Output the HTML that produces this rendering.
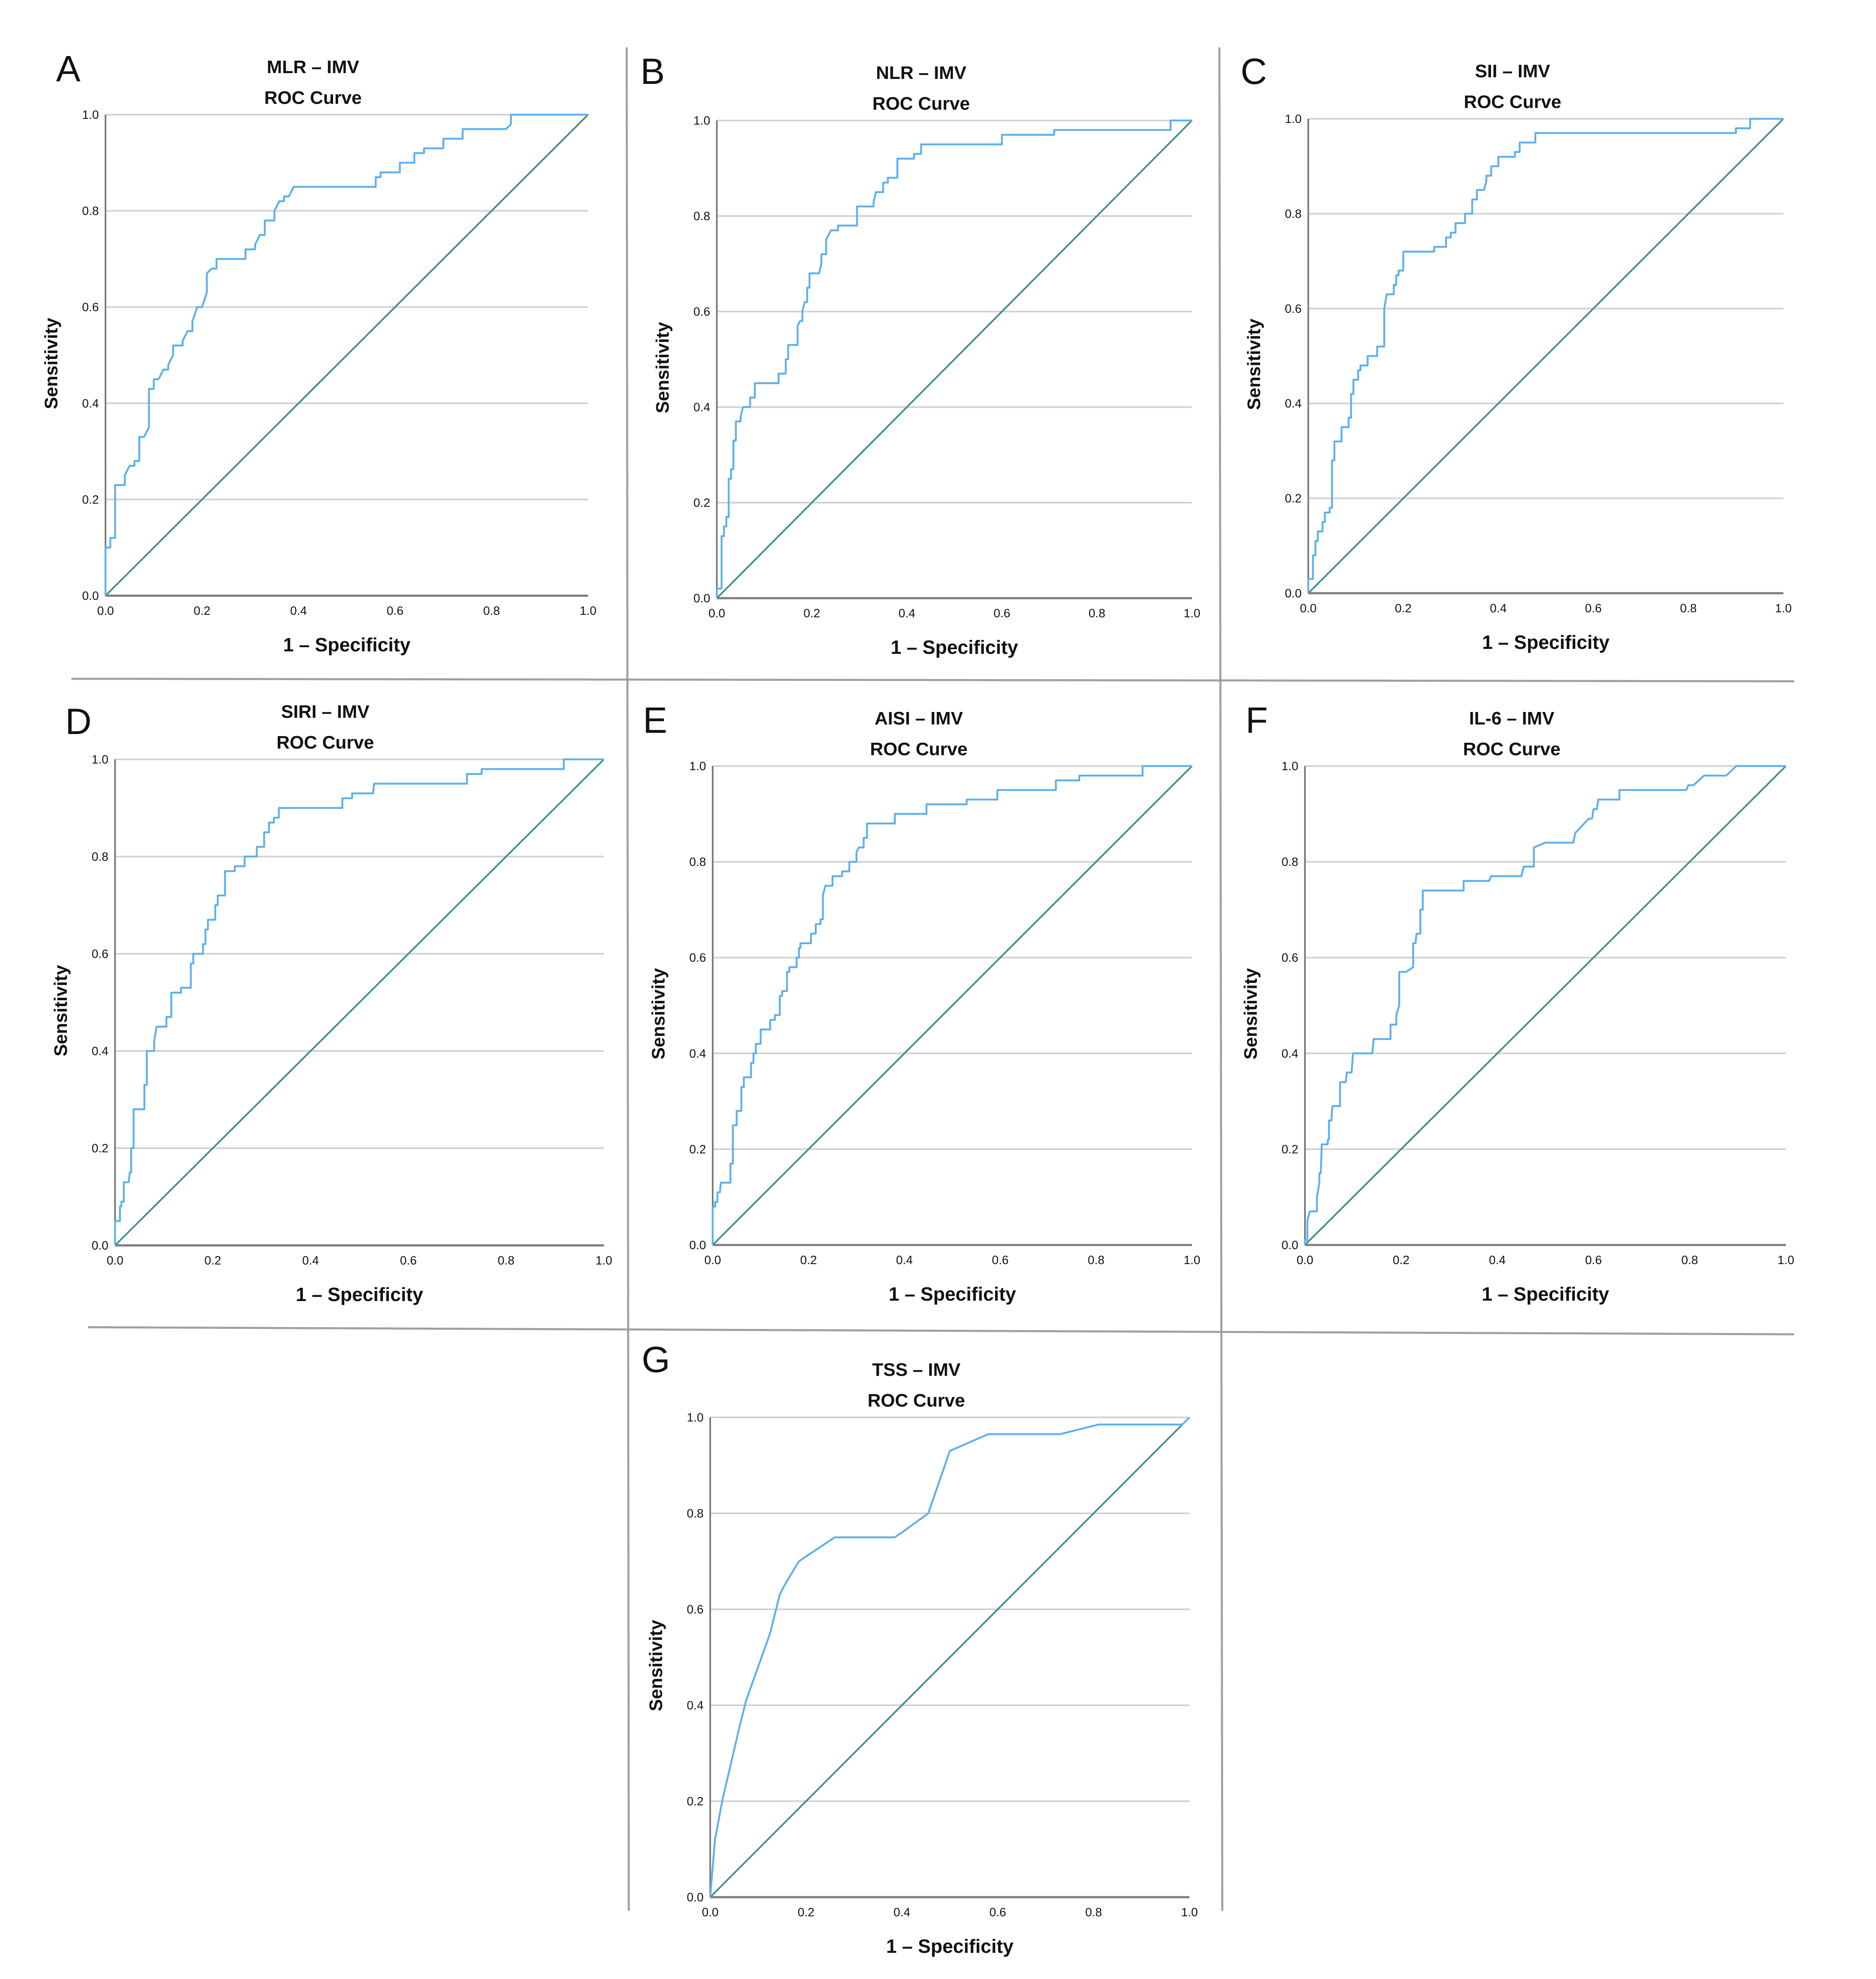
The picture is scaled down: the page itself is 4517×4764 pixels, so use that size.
<!DOCTYPE html>
<html><head><meta charset="utf-8"><title>ROC Curves - IMV</title>
<style>
html,body{margin:0;padding:0;background:#fff;}
svg{display:block;}
text{font-family:"Liberation Sans","DejaVu Sans",sans-serif;fill:#111;}
</style></head>
<body>
<svg id="fig" xmlns="http://www.w3.org/2000/svg" width="4517" height="4764" viewBox="0 0 4517 4764">
  <rect x="0" y="0" width="4517" height="4764" fill="#fff"/>
  <g id="seps">
    <line x1="1509" y1="114" x2="1514" y2="4600" stroke="#a0a0a0" stroke-width="5"/>
    <line x1="2936" y1="114" x2="2943" y2="4600" stroke="#a0a0a0" stroke-width="5"/>
    <line x1="172" y1="1634" x2="4320" y2="1640" stroke="#a0a0a0" stroke-width="5"/>
    <line x1="212" y1="3195" x2="4320" y2="3212" stroke="#a0a0a0" stroke-width="5"/>
  </g>
  <g id="panels"></g>
</svg>
<script>
const ticks = [0, 0.2, 0.4, 0.6, 0.8, 1.0];
const tickLabels = ["0.0", "0.2", "0.4", "0.6", "0.8", "1.0"];

const mlrFpr = [0,0,.01,.01,.02,.02,.04,.04,.05,.06,.06,.07,.07,.08,.09,.09,.09,.1,.1,.11,.12,.13,.13,.14,.14,.16,.16,.17,.18,.18,.19,.20,.21,.21,.22,.23,.23,.29,.29,.31,.31,.32,.33,.33,.35,.35,.36,.37,.37,.38,.39,.56,.56,.57,.57,.61,.61,.64,.64,.66,.66,.7,.7,.74,.74,.83,.84,.84,1];
const mlrTpr = [0,.1,.1,.12,.12,.23,.23,.25,.27,.27,.28,.28,.33,.33,.35,.37,.43,.43,.45,.45,.47,.47,.48,.50,.52,.52,.53,.55,.55,.57,.60,.60,.63,.67,.68,.68,.70,.70,.72,.72,.73,.75,.75,.78,.78,.80,.82,.82,.83,.83,.85,.85,.87,.87,.88,.88,.90,.90,.92,.92,.93,.93,.95,.95,.97,.97,.98,1,1];

const nlrFpr = [0,0,.01,.01,.015,.015,.02,.02,.025,.025,.03,.03,.035,.035,.04,.04,.05,.05,.055,.07,.07,.08,.08,.13,.13,.145,.145,.15,.15,.17,.17,.175,.18,.18,.185,.19,.19,.195,.195,.215,.22,.22,.23,.23,.235,.24,.255,.255,.295,.295,.33,.33,.335,.35,.35,.36,.36,.38,.38,.415,.415,.43,.43,.6,.6,.71,.71,.955,.955,1];
const nlrTpr = [0,.02,.02,.13,.13,.15,.15,.17,.17,.25,.25,.27,.27,.33,.33,.37,.37,.38,.40,.40,.42,.42,.45,.45,.47,.47,.50,.50,.53,.53,.57,.58,.58,.60,.62,.62,.65,.65,.68,.68,.70,.72,.72,.75,.76,.77,.77,.78,.78,.82,.82,.83,.85,.85,.87,.87,.88,.88,.92,.92,.93,.93,.95,.95,.97,.97,.98,.98,1,1];

const siiFpr = [0,0,.01,.01,.015,.015,.02,.02,.03,.03,.035,.035,.045,.045,.05,.05,.055,.055,.07,.07,.085,.085,.09,.09,.095,.095,.105,.105,.11,.11,.125,.125,.145,.145,.16,.16,.165,.18,.18,.185,.185,.19,.19,.2,.2,.265,.265,.29,.29,.3,.3,.31,.31,.33,.33,.345,.345,.355,.355,.37,.375,.375,.385,.385,.4,.4,.435,.435,.445,.445,.478,.478,.9,.9,.93,.93,1];
const siiTpr = [0,.03,.03,.08,.08,.11,.11,.13,.13,.15,.15,.17,.17,.18,.18,.28,.28,.32,.32,.35,.35,.37,.37,.42,.42,.45,.45,.47,.47,.48,.48,.50,.50,.52,.52,.60,.63,.63,.65,.65,.67,.67,.68,.68,.72,.72,.73,.73,.75,.75,.76,.76,.78,.78,.80,.80,.83,.83,.85,.85,.87,.88,.88,.90,.90,.92,.92,.93,.93,.95,.95,.97,.97,.98,.98,1,1];

const siriFpr = [0,0,.01,.01,.013,.013,.018,.018,.028,.03,.033,.033,.038,.038,.06,.06,.065,.065,.08,.08,.085,.105,.105,.115,.115,.135,.135,.155,.155,.16,.16,.18,.18,.185,.185,.19,.19,.205,.205,.21,.21,.225,.225,.245,.245,.265,.265,.29,.29,.305,.305,.315,.315,.325,.325,.335,.335,.465,.465,.485,.485,.528,.53,.72,.72,.75,.75,.918,.918,1];
const siriTpr = [0,.05,.05,.08,.08,.09,.09,.13,.13,.15,.15,.20,.20,.28,.28,.33,.33,.40,.40,.42,.45,.45,.47,.47,.52,.52,.53,.53,.58,.58,.60,.60,.62,.62,.65,.65,.67,.67,.70,.70,.72,.72,.77,.77,.78,.78,.80,.80,.82,.82,.85,.85,.87,.87,.88,.88,.90,.90,.92,.92,.93,.93,.95,.95,.97,.97,.98,.98,1,1];

const aisiFpr = [0,0,.005,.005,.01,.01,.015,.017,.037,.037,.042,.042,.05,.05,.06,.06,.065,.065,.08,.08,.085,.085,.09,.09,.1,.1,.12,.12,.13,.13,.14,.14,.145,.145,.155,.155,.16,.16,.175,.175,.18,.18,.183,.183,.205,.205,.215,.215,.225,.225,.23,.23,.235,.25,.25,.27,.27,.285,.285,.3,.3,.305,.315,.315,.322,.322,.38,.38,.446,.446,.53,.53,.594,.594,.716,.716,.765,.765,.897,.897,1];
const aisiTpr = [0,.08,.08,.09,.09,.11,.11,.13,.13,.17,.17,.25,.25,.28,.28,.33,.33,.35,.35,.38,.38,.40,.40,.42,.42,.45,.45,.47,.47,.48,.48,.52,.52,.53,.53,.57,.57,.58,.58,.60,.60,.62,.62,.63,.63,.65,.65,.67,.67,.68,.68,.73,.75,.75,.77,.77,.78,.78,.80,.80,.82,.83,.83,.85,.85,.88,.88,.90,.90,.92,.92,.93,.93,.95,.95,.97,.97,.98,.98,1,1];

const il6Fpr = [0,0,.005,.005,.01,.025,.025,.03,.03,.033,.035,.047,.048,.05,.05,.055,.057,.073,.073,.085,.087,.097,.1,.14,.143,.178,.178,.19,.19,.196,.196,.21,.225,.225,.23,.232,.24,.24,.245,.245,.33,.33,.383,.387,.45,.455,.476,.476,.5,.558,.562,.59,.597,.6,.607,.61,.654,.654,.793,.797,.808,.83,.876,.897,1];
const il6Tpr = [0,.01,.01,.05,.07,.07,.10,.13,.15,.15,.21,.21,.22,.22,.26,.26,.29,.29,.34,.34,.36,.36,.40,.40,.43,.43,.46,.46,.48,.50,.57,.57,.58,.63,.63,.65,.65,.70,.70,.74,.74,.76,.76,.77,.77,.79,.79,.83,.84,.84,.86,.89,.89,.91,.91,.93,.93,.95,.95,.96,.96,.98,.98,1,1];

const tssFpr = [0,.01,.025,.06,.075,.1,.125,.145,.155,.185,.2,.26,.385,.4,.455,.5,.58,.73,.81,.985,1];
const tssTpr = [0,.12,.2,.35,.41,.48,.55,.63,.65,.70,.71,.75,.75,.76,.80,.93,.965,.965,.985,.985,1];

const titles = ["MLR – IMV","NLR – IMV","SII – IMV","SIRI – IMV","AISI – IMV","IL-6 – IMV","TSS – IMV"];
const letters = ["A","B","C","D","E","F","G"];
const fprs = [mlrFpr,nlrFpr,siiFpr,siriFpr,aisiFpr,il6Fpr,tssFpr];
const tprs = [mlrTpr,nlrTpr,siiTpr,siriTpr,aisiTpr,il6Tpr,tssTpr];

const boxes = [
  {l:254,r:1416,t:276,b:1434,lx:135,ly:196},
  {l:1726,r:2870,t:290,b:1440,lx:1542,ly:202},
  {l:3150,r:4294,t:286,b:1428,lx:2987,ly:202},
  {l:277,r:1454,t:1828,b:2998,lx:157,ly:1767},
  {l:1716,r:2870,t:1844,b:2997,lx:1548,ly:1764},
  {l:3142,r:4300,t:1844,b:2997,lx:2999,ly:1764},
  {l:1710,r:2864,t:3412,b:4567,lx:1545,ly:3303}
];

const NS = "http://www.w3.org/2000/svg";
const root = document.getElementById("panels");
function mk(tag, attrs, parent){
  const e = document.createElementNS(NS, tag);
  for (const k in attrs) e.setAttribute(k, attrs[k]);
  parent.appendChild(e);
  return e;
}

boxes.forEach(function(B, i){
  const slug = titles[i].split(" ")[0].toLowerCase();
  const g = mk("g", {}, root);
  
  
  const xs = v => B.l + v * (B.r - B.l);
  const ys = v => B.b - v * (B.b - B.t);

  ticks.forEach(function(t, k){
    if (t === 0) return;
    const gl = mk("line", {x1:B.l, x2:B.r, y1:ys(t), y2:ys(t), stroke:"#d2d2d2", "stroke-width":4}, g);
    
    
  });
  const ya = mk("line", {x1:B.l, x2:B.l, y1:B.t, y2:B.b, stroke:"#7a7a7a", "stroke-width":4}, g);
  
  
  const xa = mk("line", {x1:B.l, x2:B.r, y1:B.b, y2:B.b, stroke:"#7a7a7a", "stroke-width":5}, g);
  
  

  ticks.forEach(function(t, k){
    const yl = mk("text", {x:B.l - 16, y:ys(t) + 10, "text-anchor":"end", "font-size":29}, g);
    yl.textContent = tickLabels[k];
    
    
    const xl = mk("text", {x:xs(t), y:B.b + 46, "text-anchor":"middle", "font-size":29}, g);
    xl.textContent = tickLabels[k];
    
    
  });

  const dg = mk("line", {x1:xs(0), y1:ys(0), x2:xs(1), y2:ys(1), stroke:"#3f8d86", "stroke-width":4}, g);
  
  

  const fx = fprs[i], ty = tprs[i];
  let pts = [];
  for (let k = 0; k < fx.length; k++) pts.push(xs(fx[k]).toFixed(1) + "," + ys(ty[k]).toFixed(1));
  const cv = mk("polyline", {points:pts.join(" "), fill:"none", stroke:"#5cb0ec", "stroke-width":4.5, "stroke-linejoin":"round"}, g);
  
  

  const tx = B.l + 0.43 * (B.r - B.l);
  const t1 = mk("text", {x:tx, y:B.t - 100, "text-anchor":"middle", "font-size":44, "font-weight":"bold"}, g);
  t1.textContent = titles[i];
  
  
  const t2 = mk("text", {x:tx, y:B.t - 26, "text-anchor":"middle", "font-size":44, "font-weight":"bold"}, g);
  t2.textContent = "ROC Curve";
  
  

  const xt = mk("text", {x:(B.l + B.r) / 2, y:B.b + 134, "text-anchor":"middle", "font-size":46, "font-weight":"bold"}, g);
  xt.textContent = "1 – Specificity";
  
  
  const cy = (B.t + B.b) / 2 + 20;
  const yt = mk("text", {x:B.l - 116, y:cy, "text-anchor":"middle", "font-size":44, "font-weight":"bold", transform:"rotate(-90 " + (B.l - 116) + " " + cy + ")"}, g);
  yt.textContent = "Sensitivity";
  
  

  const lt = mk("text", {x:B.lx, y:B.ly, "font-size":88}, g);
  lt.textContent = letters[i];
  
  
});
</script>
</body></html>
